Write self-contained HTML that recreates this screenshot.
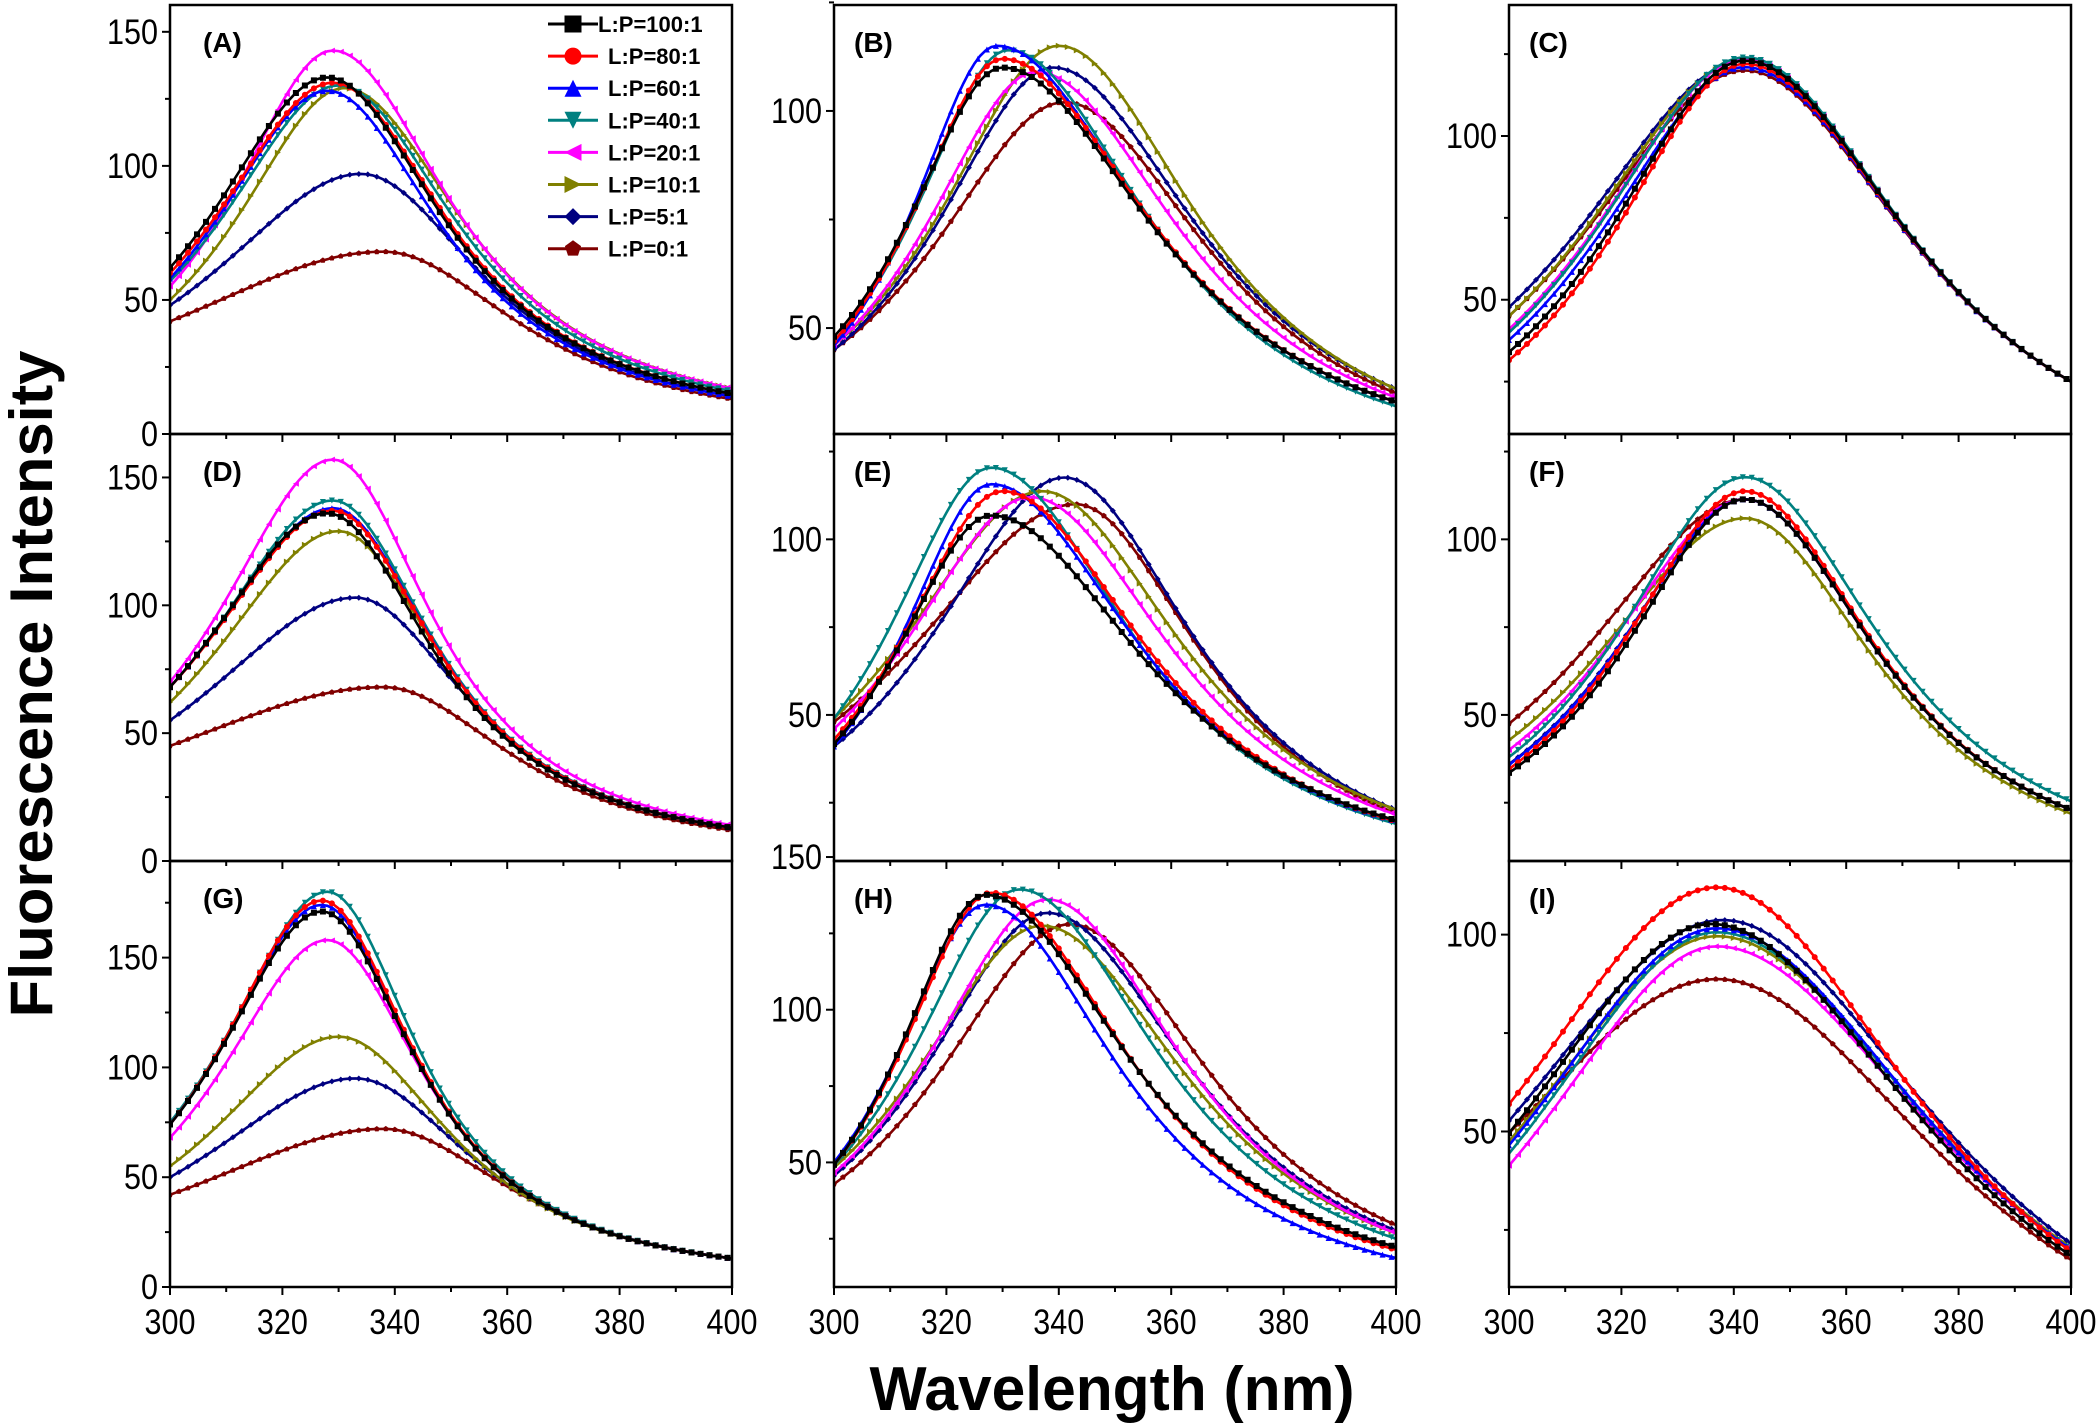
<!DOCTYPE html>
<html><head><meta charset="utf-8"><style>
html,body{margin:0;padding:0;background:#fff;}
svg{display:block;}
</style></head><body>
<svg id="s" xmlns="http://www.w3.org/2000/svg" width="2100" height="1427" viewBox="0 0 2100 1427"></svg>
<script>
const C=['#000000','#ff0000','#0000ff','#008080','#ff00ff','#808000','#000080','#800000'];
const NAMES=['L:P=100:1','L:P=80:1','L:P=60:1','L:P=40:1','L:P=20:1','L:P=10:1','L:P=5:1','L:P=0:1'];
const colL=[170,834,1509], W=562, rowT=[5,434,861], rowB=[434,861,1287];
// series: [v300, peak, mu, v400]
const P=[
{c:0,r:0,lab:'(A)',ymin:0,ymax:160,b:0,t:[0,50,100,150],s:[[62,133,328,15],[60,131,329,15],[58,128,328,14],[57,130,330,16],[55,143,329,17],[50,129,331,17],[48,97,334,14],[42,68,338,13]]},
{c:1,r:0,lab:'(B)',ymin:25.6,ymax:124.4,b:15,t:[50,100],s:[[48,110,330,33],[47,112,330,33],[46,115,329,33],[47,114,331,32],[46,109,336,34],[46,115,340,36],[45,110,339,36],[45,102,341,35]]},
{c:2,r:0,lab:'(C)',ymin:9,ymax:140,b:-15,t:[50,100],s:[[34,123,342,25],[31.5,122,342,25],[37.7,121,342,25],[40,124,342,25],[41,123.5,342,25],[45,123,342,25],[47.7,123,342,25],[45,120,342,25]]},
{c:0,r:1,lab:'(D)',ymin:0,ymax:167,b:0,t:[0,50,100,150],s:[[68,136,328,13],[68,137,329,13],[68,138,329,13],[68,141,329,13],[70,157,329,14],[62,129,330,13],[55,103,333,13],[45,68,338,12]]},
{c:1,r:1,lab:'(E)',ymin:8.4,ymax:130,b:0,t:[50,100],s:[[41.7,106.8,328,20],[43,113.7,330,19.7],[41,115.7,328,19.7],[49,120.4,328,19],[46,112,335,21.6],[49,113.7,337,23],[41,117.6,341,23],[48,110,343,22]]},
{c:2,r:1,lab:'(F)',ymin:8.4,ymax:130,b:0,t:[50,100],s:[[33.5,111.4,342,23],[34.6,113.7,342,23],[35.8,111.4,342,23],[38,117.7,342,25.4],[40,111.4,342,23],[42.8,106,342,21.9],[36,111.4,342,23],[47.5,111.4,342,23]]},
{c:0,r:2,lab:'(G)',ymin:0,ymax:194,b:0,t:[0,50,100,150],s:[[74,171,327,13],[74,176,327,13],[74,174,327,13],[75,180,328,13],[68,158,328,13],[55,114,330,13],[50,95,333,13],[42,72,338,13]]},
{c:1,r:2,lab:'(H)',ymin:9.2,ymax:148.7,b:0,t:[50,100,150],s:[[49.2,137.6,327,22.3],[49.2,138.3,328,21.4],[50,134.4,327,18.7],[49,139.4,333,25],[46.5,136.1,338,26.8],[48.3,127.5,337,26.8],[45.6,131.7,338,27.7],[42.9,128,342,29.5]]},
{c:2,r:2,lab:'(I)',ymin:10.5,ymax:118.7,b:-30,t:[50,100],s:[[49.6,102.7,336,18.4],[56.9,112,337,19.5],[46.5,101.6,337,20],[44.4,100.6,337,20],[41.3,97,337,20],[47.5,99.6,337,20.5],[52.7,103.7,338,21.5],[49.6,88.7,337,17.4]]}
];
function mk(i,x,y,s){
  const h=s/2;
  switch(i){
    case 0:return `M${x-h},${y-h}h${s}v${s}h${-s}z`;
    case 1:return `M${x-h},${y}a${h},${h} 0 1,0 ${s},0a${h},${h} 0 1,0 ${-s},0z`;
    case 2:return `M${x},${y-h}L${x+h},${y+h}L${x-h},${y+h}z`;
    case 3:return `M${x},${y+h}L${x+h},${y-h}L${x-h},${y-h}z`;
    case 4:return `M${x-h},${y}L${x+h},${y-h}L${x+h},${y+h}z`;
    case 5:return `M${x+h},${y}L${x-h},${y-h}L${x-h},${y+h}z`;
    case 6:return `M${x},${y-h}L${x+h},${y}L${x},${y+h}L${x-h},${y}z`;
    case 7:{let p='';for(let k=0;k<5;k++){const a=-Math.PI/2+k*2*Math.PI/5;p+=(k?'L':'M')+(x+h*Math.cos(a)).toFixed(1)+','+(y+h*Math.sin(a)).toFixed(1);}return p+'z';}
  }
}
let o='';
const F='font-family="Liberation Sans, Arial, sans-serif"';
P.forEach(p=>{
  const L=colL[p.c],T=rowT[p.r],B=rowB[p.r],H=B-T;
  const X=x=>L+(x-300)/100*W, Y=v=>B-(v-p.ymin)/(p.ymax-p.ymin)*H;
  o+=`<clipPath id="c${p.c}${p.r}"><rect x="${L}" y="${T}" width="${W}" height="${H}"/></clipPath><g clip-path="url(#c${p.c}${p.r})">`;
  for(let i=7;i>=0;i--){
    const [v3,Pk,mu,v4]=p.s[i],b=p.b;
    const hl=(mu-300)/Math.sqrt((Pk-b)/(v3-b)-1), hr=(400-mu)/Math.sqrt((Pk-b)/(v4-b)-1);
    const f=x=>{const d=x-mu,h=d<0?hl:hr;return b+(Pk-b)/(1+(d/h)*(d/h));};
    let d='',m='';
    for(let x=300;x<=400;x+=1){d+=(x==300?'M':'L')+X(x).toFixed(1)+','+Y(f(x)).toFixed(1);}
    for(let x=300;x<=400;x+=1.6){m+=mk(i,+X(x).toFixed(1),+Y(f(x)).toFixed(1),6);}
    o+=`<path d="${d}" fill="none" stroke="${C[i]}" stroke-width="2.6"/><path d="${m}" fill="${C[i]}"/>`;
  }
  o+='</g>';
  o+=`<rect x="${L}" y="${T}" width="${W}" height="${H}" fill="none" stroke="#000" stroke-width="2.5"/>`;
  // y ticks
  for(let v=0;v<=200;v+=25){ if(v<p.ymin-0.01||v>p.ymax+2)continue; const y=Y(v); const maj=v%50==0;
    o+=`<line x1="${L}" x2="${L-(maj?8:5)}" y1="${y}" y2="${y}" stroke="#000" stroke-width="2"/>`;
    if(maj&&p.t.includes(v)){const s=String(v);o+=`<text x="${L-12}" y="${y+12}" ${F} font-size="35" text-anchor="end" textLength="${s.length*17}" lengthAdjust="spacingAndGlyphs">${s}</text>`;}
  }
  for(let x=300;x<=400;x+=10){const xx=X(x);o+=`<line x1="${xx}" x2="${xx}" y1="${B}" y2="${B+(x%20==0?8:5)}" stroke="#000" stroke-width="2"/>`;
    if(p.r==2&&x%20==0)o+=`<text x="${xx}" y="${B+47}" ${F} font-size="35" text-anchor="middle" textLength="51" lengthAdjust="spacingAndGlyphs">${x}</text>`;}
  o+=`<text x="${L+(p.c==0?33:20)}" y="${T+47}" ${F} font-weight="bold" font-size="28">${p.lab}</text>`;
});
// legend
for(let i=0;i<8;i++){const y=24+i*32.1;
  o+=`<line x1="548" x2="598" y1="${y}" y2="${y}" stroke="${C[i]}" stroke-width="3"/><path d="${mk(i,573,y,17)}" fill="${C[i]}"/>`;
  o+=`<text x="${i==0?598:608}" y="${y+8}" ${F} font-weight="bold" font-size="22">${NAMES[i]}</text>`;}
o+=`<text transform="translate(52,684) rotate(-90)" x="0" y="0" ${F} font-weight="bold" font-size="60" text-anchor="middle" textLength="667" lengthAdjust="spacingAndGlyphs">Fluorescence Intensity</text>`;
o+=`<text x="1112" y="1410" ${F} font-weight="bold" font-size="62" text-anchor="middle" textLength="485" lengthAdjust="spacingAndGlyphs">Wavelength (nm)</text>`;
document.getElementById('s').innerHTML=o;
</script>
</body></html>
